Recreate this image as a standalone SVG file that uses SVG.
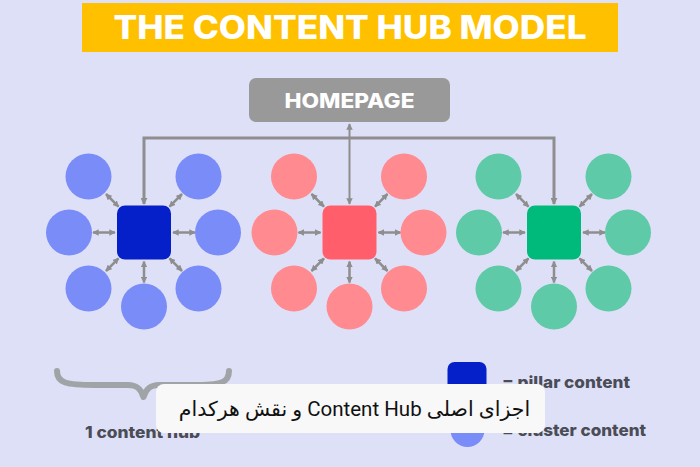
<svg xmlns="http://www.w3.org/2000/svg" width="700" height="467" viewBox="0 0 700 467">
<defs>
<marker id="ah" viewBox="0 0 8 8" refX="7" refY="4" markerWidth="7" markerHeight="7" markerUnits="userSpaceOnUse" orient="auto-start-reverse">
<path d="M0,0 L8,4 L0,8 z" fill="#8e8e8e"/>
</marker>
<marker id="ah2" viewBox="0 0 8 8" refX="7" refY="4" markerWidth="6.5" markerHeight="6.5" markerUnits="userSpaceOnUse" orient="auto-start-reverse">
<path d="M0,0 L8,4 L0,8 z" fill="#8e8e8e"/>
</marker>
</defs>
<style>
.bg{fill:#dee0f8}
.title{font-family:Inter,"Open Sans",sans-serif;font-weight:800;fill:#ffffff}
.lbl{font-family:Inter,"Open Sans",sans-serif;font-weight:800;fill:#4a4c56}
.conn{fill:none;stroke:#8e8e8e;stroke-width:3;stroke-linejoin:miter}
.arr{fill:none;stroke:#8e8e8e;stroke-width:2.5;marker-start:url(#ah2);marker-end:url(#ah2)}
.bc{fill:#7a8cf7}.bs{fill:#0520c8}
.rc{fill:#ff8a90}.rs{fill:#ff5e6a}
.gc{fill:#5ecaa8}.gs{fill:#00ba7c}
</style>
<rect class="bg" x="0" y="0" width="700" height="467"/>

<g id="title">
<rect x="82" y="3" width="536" height="49" fill="#ffc000"/>
<text class="title" x="350" y="39" font-size="32" text-anchor="middle" textLength="473" lengthAdjust="spacingAndGlyphs">THE CONTENT HUB MODEL</text>
</g>

<g id="homepage">
<rect x="249" y="78" width="201" height="44" rx="7" fill="#999999"/>
<text class="title" x="349.5" y="108" font-size="20" text-anchor="middle" textLength="130" lengthAdjust="spacingAndGlyphs">HOMEPAGE</text>
</g>

<g id="connectors">
<path class="conn" d="M144,204 V138 H554 V204" marker-start="url(#ah)" marker-end="url(#ah)"/>
<line x1="349.5" y1="124" x2="349.5" y2="204" stroke="#8e8e8e" stroke-width="2" marker-start="url(#ah2)" marker-end="url(#ah2)"/>
<g id="arrows-blue" transform="translate(144,232.5)">
<line class="arr" x1="-51" y1="0" x2="-29" y2="0"/>
<line class="arr" x1="29" y1="0" x2="51" y2="0"/>
<line class="arr" x1="0" y1="29" x2="0" y2="50"/>
<line class="arr" x1="-38" y1="-38.5" x2="-25.5" y2="-25.8"/>
<line class="arr" x1="38" y1="-38.5" x2="25.5" y2="-25.8"/>
<line class="arr" x1="-38" y1="38.5" x2="-25.5" y2="25.8"/>
<line class="arr" x1="38" y1="38.5" x2="25.5" y2="25.8"/>
</g>
<g id="arrows-red" transform="translate(349.5,232.5)">
<line class="arr" x1="-51" y1="0" x2="-29" y2="0"/>
<line class="arr" x1="29" y1="0" x2="51" y2="0"/>
<line class="arr" x1="0" y1="29" x2="0" y2="50"/>
<line class="arr" x1="-38" y1="-38.5" x2="-25.5" y2="-25.8"/>
<line class="arr" x1="38" y1="-38.5" x2="25.5" y2="-25.8"/>
<line class="arr" x1="-38" y1="38.5" x2="-25.5" y2="25.8"/>
<line class="arr" x1="38" y1="38.5" x2="25.5" y2="25.8"/>
</g>
<g id="arrows-green" transform="translate(554,232.5)">
<line class="arr" x1="-51" y1="0" x2="-29" y2="0"/>
<line class="arr" x1="29" y1="0" x2="51" y2="0"/>
<line class="arr" x1="0" y1="29" x2="0" y2="50"/>
<line class="arr" x1="-38" y1="-38.5" x2="-25.5" y2="-25.8"/>
<line class="arr" x1="38" y1="-38.5" x2="25.5" y2="-25.8"/>
<line class="arr" x1="-38" y1="38.5" x2="-25.5" y2="25.8"/>
<line class="arr" x1="38" y1="38.5" x2="25.5" y2="25.8"/>
</g>
</g>

<g id="hub-blue" transform="translate(144,232.5)">
<circle class="bc" cx="-55.5" cy="-56" r="23"/>
<circle class="bc" cx="54.5" cy="-56" r="23"/>
<circle class="bc" cx="-75" cy="0" r="23"/>
<circle class="bc" cx="74" cy="0" r="23"/>
<circle class="bc" cx="-55.5" cy="56" r="23"/>
<circle class="bc" cx="54.5" cy="56" r="23"/>
<circle class="bc" cx="0" cy="74" r="23"/>
<rect class="bs" x="-27" y="-27" width="54" height="54" rx="8"/>
</g>
<g id="hub-red" transform="translate(349.5,232.5)">
<circle class="rc" cx="-55.5" cy="-56" r="23"/>
<circle class="rc" cx="54.5" cy="-56" r="23"/>
<circle class="rc" cx="-75" cy="0" r="23"/>
<circle class="rc" cx="74" cy="0" r="23"/>
<circle class="rc" cx="-55.5" cy="56" r="23"/>
<circle class="rc" cx="54.5" cy="56" r="23"/>
<circle class="rc" cx="0" cy="74" r="23"/>
<rect class="rs" x="-27" y="-27" width="54" height="54" rx="8"/>
</g>
<g id="hub-green" transform="translate(554,232.5)">
<circle class="gc" cx="-55.5" cy="-56" r="23"/>
<circle class="gc" cx="54.5" cy="-56" r="23"/>
<circle class="gc" cx="-75" cy="0" r="23"/>
<circle class="gc" cx="74" cy="0" r="23"/>
<circle class="gc" cx="-55.5" cy="56" r="23"/>
<circle class="gc" cx="54.5" cy="56" r="23"/>
<circle class="gc" cx="0" cy="74" r="23"/>
<rect class="gs" x="-27" y="-27" width="54" height="54" rx="8"/>
</g>

<g id="legend">
<path d="M57,371 C57,383 66,385 95,385 L128,385 C137,385 141,389 143.5,397 C146,389 150,385 159,385 L192,385 C221,385 229,383 229,371" fill="none" stroke="#a0a4a7" stroke-width="6" stroke-linecap="round" stroke-linejoin="round"/>
<text class="lbl" x="85" y="438" font-size="16" textLength="115" lengthAdjust="spacingAndGlyphs">1 content hub</text>
<rect class="bs" x="447.5" y="362" width="39" height="39" rx="7"/>
<text class="lbl" x="502" y="387.5" font-size="16.5" textLength="128" lengthAdjust="spacingAndGlyphs">= pillar content</text>
<circle class="bc" cx="467.5" cy="430" r="17"/>
<text class="lbl" x="502" y="436" font-size="16.5" textLength="144" lengthAdjust="spacingAndGlyphs">= cluster content</text>
</g>

<g id="caption">
<rect x="156" y="384" width="389" height="49" rx="8" fill="#f8f8f8"/>
<text x="354.5" y="416" font-size="20.5" text-anchor="middle" fill="#111111" font-family="Roboto, 'DejaVu Sans', sans-serif" direction="rtl">اجزای اصلی Content Hub و نقش هرکدام</text>
</g>
</svg>
